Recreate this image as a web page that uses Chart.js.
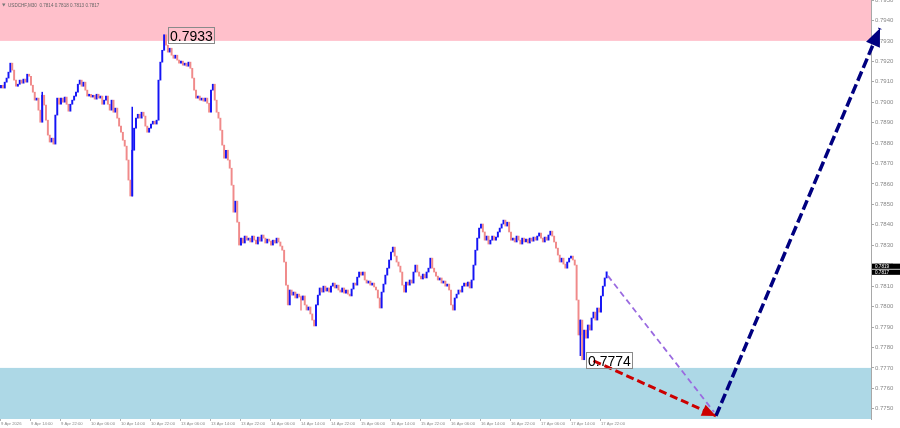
<!DOCTYPE html>
<html><head><meta charset="utf-8">
<script src="https://cdn.jsdelivr.net/npm/chart.js@4.4.1/dist/chart.umd.min.js"></script>
<style>html,body{margin:0;padding:0;background:#fff;overflow:hidden}#wrap{width:900px;height:428px;position:relative}</style>
</head><body><div id="wrap"><canvas id="c" width="900" height="428"></canvas></div>
<script>
// ---------- DATA ----------
const symbolTitle = 'USDCHF,M30  0.7814 0.7818 0.7813 0.7817';
const firstOpen = 0.79070;
// M30 closes, 9 Apr 06:00 .. 17 Apr 23:30
const closes = [
0.79083,0.79069,0.79098,0.79118,0.79147,0.79191,0.79157,0.79108,
0.79078,0.79088,0.79108,0.79093,0.79113,0.79098,0.79137,0.79127,
0.79083,0.79049,0.79010,0.79020,0.78961,0.78902,0.79034,0.78986,
0.78912,0.78839,0.78805,0.78824,0.78795,0.78937,0.79020,0.78990,
0.79020,0.79000,0.79025,0.78990,0.78956,0.78990,0.79010,0.79030,
0.79049,0.79088,0.79108,0.79078,0.79098,0.79059,0.79030,0.79039,
0.79025,0.79034,0.79015,0.79039,0.79020,0.79030,0.78990,0.79010,
0.79030,0.78990,0.78961,0.79010,0.78951,0.78971,0.78922,0.78883,
0.78853,0.78814,0.78785,0.78717,0.78619,0.78541,0.78765,0.78873,
0.78922,0.78941,0.78922,0.78951,0.78932,0.78883,0.78853,0.78873,
0.78893,0.78907,0.78893,0.78912,
0.79108,0.79196,0.79254,0.79330,0.79279,0.79245,0.79264,0.79230,
0.79215,0.79230,0.79206,0.79191,0.79201,0.79181,0.79191,0.79176,
0.79196,0.79166,0.79118,0.79059,0.79020,0.79030,0.79010,0.79020,
0.79005,0.79020,0.78995,0.78951,0.79059,0.79088,0.79010,0.78951,
0.78922,0.78863,0.78790,0.78726,0.78765,0.78717,0.78677,0.78594,
0.78462,0.78516,0.78413,0.78301,0.78335,0.78311,0.78345,0.78325,
0.78335,0.78316,0.78345,0.78325,0.78306,0.78340,0.78320,0.78350,
0.78335,0.78311,0.78330,0.78320,0.78301,0.78325,0.78311,0.78335,
0.78316,0.78296,0.78276,0.78218,
0.78105,0.78008,0.78081,0.78056,0.78071,0.78042,0.78061,0.78047,
0.78032,0.78052,0.78008,0.77983,0.77998,0.77964,0.77934,0.77905,
0.78008,0.78056,0.78091,0.78071,0.78100,0.78076,0.78091,0.78071,
0.78100,0.78115,0.78091,0.78105,0.78081,0.78071,0.78091,0.78066,
0.78081,0.78061,0.78052,0.78086,0.78115,0.78105,0.78144,0.78169,
0.78154,0.78169,0.78130,0.78115,0.78125,0.78105,0.78115,0.78096,
0.78081,0.78042,0.77993,0.78071,0.78110,0.78154,0.78188,0.78228,
0.78267,0.78291,0.78247,0.78218,0.78198,0.78169,0.78105,0.78071,
0.78120,0.78105,0.78130,0.78115,0.78169,0.78203,0.78169,0.78149,
0.78135,0.78159,0.78140,0.78169,0.78188,0.78237,0.78188,0.78169,
0.78149,0.78130,0.78140,0.78115,0.78125,0.78100,0.78110,0.78081,
0.78008,0.77983,0.78042,0.78061,0.78081,0.78071,0.78100,0.78115,
0.78100,0.78120,0.78091,0.78130,0.78203,0.78276,0.78335,0.78384,
0.78404,0.78365,0.78325,0.78345,0.78306,0.78325,0.78345,0.78325,
0.78340,0.78365,0.78384,0.78404,0.78423,0.78394,0.78413,0.78365,
0.78325,0.78335,0.78316,0.78345,0.78325,0.78306,0.78335,0.78316,
0.78330,0.78311,0.78335,0.78320,0.78340,0.78325,0.78345,0.78360,
0.78335,0.78316,0.78340,0.78325,0.78350,0.78369,0.78345,0.78316,
0.78286,0.78252,0.78218,0.78237,0.78208,0.78188,0.78218,0.78237,
0.78247,0.78228,0.78203,0.78032,0.77861,0.77934,0.77740,0.77885,
0.77846,0.77910,0.77885,0.77944,0.77973,0.77934,0.77993,0.77973,0.78052,0.78100,0.78140,0.78170
];
// notable wicks: [bar, low, high]
const wicks = [[70, 0.78541, 0.78976], [309, 0.77760, 0.77934], [160, 0.77983, 0.78052], [22, 0.78912, 0.79049]];
const xTickIndex = [0,16,32,48,64,80,96,112,128,144,160,176,192,208,224,240,256,272,288,304,320];
const xTickLabels = ['9 Apr 2026','9 Apr 14:00','9 Apr 22:00','10 Apr 06:00','10 Apr 14:00','10 Apr 22:00',
 '13 Apr 06:00','13 Apr 14:00','13 Apr 22:00','14 Apr 06:00','14 Apr 14:00','14 Apr 22:00',
 '15 Apr 06:00','15 Apr 14:00','15 Apr 22:00','16 Apr 06:00','16 Apr 14:00','16 Apr 22:00',
 '17 Apr 06:00','17 Apr 14:00','17 Apr 22:00'];
const yTicks = [0.7750,0.7760,0.7770,0.7780,0.7790,0.7800,0.7810,0.7820,0.7830,0.7840,0.7850,
 0.7860,0.7870,0.7880,0.7890,0.7900,0.7910,0.7920,0.7930,0.7940,0.7950];
const yRange = [0.7745, 0.7950];
const resistanceZone = [0.7930, 0.7950];
const supportZone = [0.7745, 0.7770];
const highMark = {bar: 87, price: 0.7933, text: '0.7933'};
const lowMark = {bar: 310, price: 0.7774, text: '0.7774'};
const priceTags = [0.7819, 0.7817];
// forecast paths [barIndex, price]
const redPath = [[316, 0.77735], [381.3, 0.77465]];
const purplePath = [[323.7, 0.78150], [380.3, 0.77484]];
const navyPath = [[381.3, 0.77465], [468.8, 0.79362]];

// ---------- BUILD ----------
const opens = closes.map((c, i) => i === 0 ? firstOpen : closes[i - 1]);
const candleData = closes.map((c, i) => ({x: i, y: [opens[i], c]}));
const candleColors = closes.map((c, i) => c > opens[i] ? '#1414f5' : '#f08a8a');
const wickData = wicks.map(([b, lo, hi]) => ({x: b, y: [lo, hi]}));
const wickColors = wicks.map(([b]) => candleColors[b]);
const toPts = p => p.map(([x, y]) => ({x, y}));

const zonesPlugin = {
  id: 'zones',
  beforeDatasetsDraw(chart) {
    const {ctx, chartArea: a, scales: {y}} = chart;
    ctx.save();
    ctx.fillStyle = '#ffc0cb';
    let t = y.getPixelForValue(resistanceZone[1]), b = y.getPixelForValue(resistanceZone[0]);
    ctx.fillRect(a.left, t, a.right - a.left, b - t);
    ctx.fillStyle = '#add8e6';
    t = y.getPixelForValue(supportZone[1]); b = y.getPixelForValue(supportZone[0]);
    ctx.fillRect(a.left, t, a.right - a.left, b - t);
    ctx.restore();
  }
};

function arrowHead(ctx, from, to, len, width, color) {
  const a = Math.atan2(to.y - from.y, to.x - from.x);
  const bx = to.x - len * Math.cos(a), by = to.y - len * Math.sin(a);
  ctx.save();
  ctx.fillStyle = color;
  ctx.beginPath();
  ctx.moveTo(to.x, to.y);
  ctx.lineTo(bx + width / 2 * Math.sin(a), by - width / 2 * Math.cos(a));
  ctx.lineTo(bx - width / 2 * Math.sin(a), by + width / 2 * Math.cos(a));
  ctx.closePath();
  ctx.fill();
  ctx.restore();
}

function drawMark(ctx, x, y, text) {
  ctx.save();
  ctx.font = '14px "Liberation Sans", Arial, sans-serif';
  const w = ctx.measureText(text).width;
  const bx = Math.round(x + 4), by = Math.round(y - 7.5), bw = Math.round(w + 3), bh = 16;
  ctx.strokeStyle = '#8a8a8a'; ctx.lineWidth = 1;
  ctx.strokeRect(bx + 0.5, by + 0.5, bw, bh);
  ctx.fillStyle = '#000'; ctx.textBaseline = 'alphabetic';
  ctx.fillText(text, bx + 2, by + bh - 2.5);
  ctx.restore();
}

const annotPlugin = {
  id: 'annot',
  afterDatasetsDraw(chart) {
    const {ctx, chartArea: a, scales: {x, y}} = chart;
    const heads = [[2, 14, 12, '#cc0000'], [4, 18, 15, '#000080']];
    heads.forEach(([di, len, wid, col]) => {
      const pts = chart.getDatasetMeta(di).data;
      arrowHead(ctx, pts[0], pts[pts.length - 1], len, wid, col);
    });
    drawMark(ctx, x.getPixelForValue(highMark.bar), y.getPixelForValue(highMark.price), highMark.text);
    drawMark(ctx, x.getPixelForValue(lowMark.bar), y.getPixelForValue(lowMark.price), lowMark.text);
    ctx.save();
    ctx.fillStyle = '#777';
    ctx.beginPath(); ctx.moveTo(2, 3.5); ctx.lineTo(5.5, 3.5); ctx.lineTo(3.75, 6.5); ctx.closePath(); ctx.fill();
    ctx.font = '4.6px "Liberation Sans", Arial, sans-serif';
    ctx.fillStyle = '#666'; ctx.textBaseline = 'middle';
    ctx.fillText(symbolTitle, 8, 5.5);
    // price tags on axis (stacked)
    ctx.font = '4.6px "Liberation Sans", Arial, sans-serif';
    const p0 = y.getPixelForValue(priceTags[1]);
    priceTags.forEach((p, k) => {
      const cy = k === 0 ? p0 - 5.6 : p0 + 0.4;
      ctx.fillStyle = '#000';
      ctx.fillRect(a.right + 1, cy - 2.6, 900 - a.right - 1, 5.2);
      ctx.fillStyle = '#fff';
      ctx.fillText(p.toFixed(4), a.right + 4, cy + 0.2);
    });
    ctx.restore();
  }
};

new Chart(document.getElementById('c'), {
  type: 'bar',
  data: {
    datasets: [
      {type: 'bar', data: candleData, backgroundColor: candleColors, barThickness: 1.3, minBarLength: 1.5, order: 10, grouped: false},
      {type: 'bar', data: wickData, backgroundColor: wickColors, barThickness: 0.9, order: 11, grouped: false},
      {type: 'line', data: toPts(redPath), borderColor: '#cc0000', borderWidth: 3, borderDash: [8, 4], pointRadius: 0, clip: false, order: 2},
      {type: 'line', data: toPts(purplePath), borderColor: '#9a6ae0', borderWidth: 1.8, borderDash: [6, 4], pointRadius: 0, clip: false, order: 3},
      {type: 'line', data: toPts(navyPath), borderColor: '#000080', borderWidth: 3.5, borderDash: [10, 4], pointRadius: 0, clip: false, order: 1}
    ]
  },
  options: {
    responsive: false, animation: false, devicePixelRatio: 1,
    layout: {padding: 0},
    plugins: {legend: {display: false}, tooltip: {enabled: false}, title: {display: false}},
    scales: {
      x: {
        type: 'linear', min: -0.53, max: 464, offset: false,
        grid: {display: true, offset: false, drawOnChartArea: false, tickLength: 2, color: '#b0b0b0'},
        border: {display: false},
        ticks: {autoSkip: false, maxRotation: 0, minRotation: 0, align: 'start', padding: 0,
          font: {size: 4.2, family: '"Liberation Sans", Arial, sans-serif'}, color: '#888',
          callback: (v) => { const k = xTickIndex.indexOf(v); return k >= 0 ? xTickLabels[k] : ''; }},
        afterBuildTicks: s => { s.ticks = xTickIndex.map(v => ({value: v})); },
        afterFit: s => { s.height = 9; s.paddingLeft = 0; s.paddingRight = 0; }
      },
      y: {
        type: 'linear', position: 'right', min: yRange[0], max: yRange[1],
        grid: {display: true, drawOnChartArea: false, tickLength: 3, color: '#a8a8a8'},
        border: {display: true, color: '#a8a8a8'},
        ticks: {padding: 1, font: {size: 6, family: '"Liberation Sans", Arial, sans-serif'}, color: '#888',
          callback: v => Number(v).toFixed(4)},
        afterBuildTicks: s => { s.ticks = yTicks.map(v => ({value: v})); },
        afterFit: s => { s.width = 29; s.paddingTop = 0; s.paddingBottom = 0; }
      }
    }
  },
  plugins: [zonesPlugin, annotPlugin]
});
</script>
</body></html>
